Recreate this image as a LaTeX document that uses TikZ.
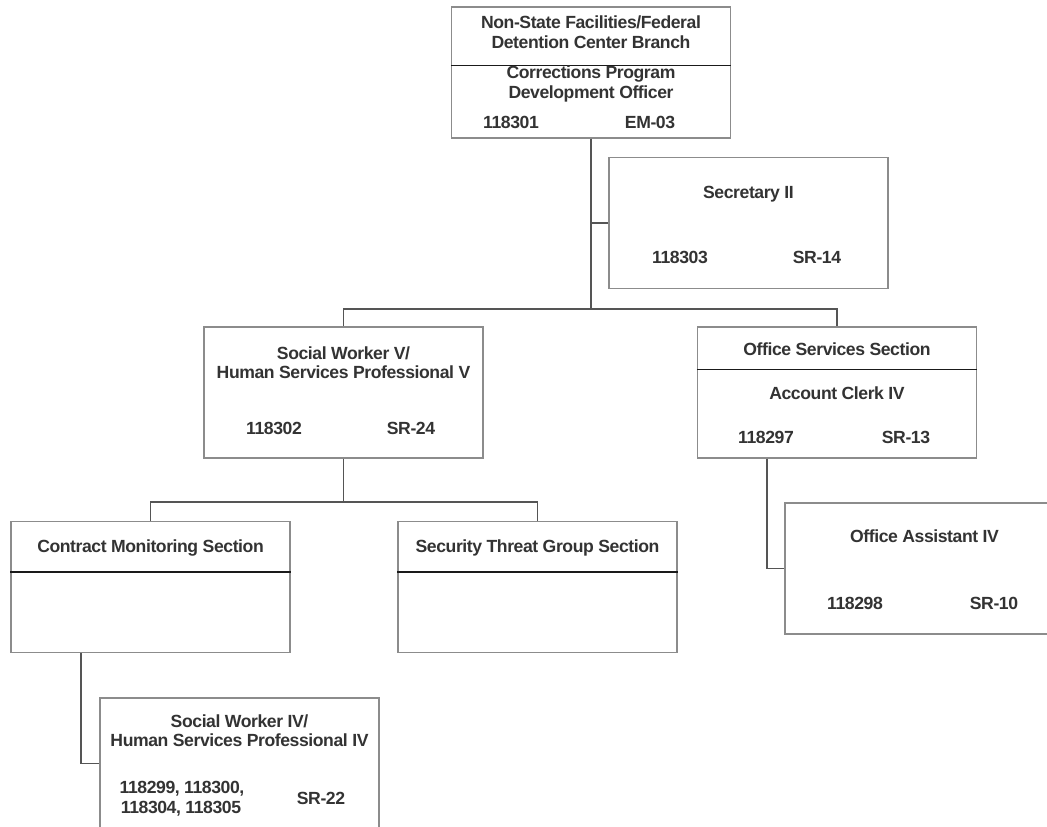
\documentclass[tikz,border=0pt]{standalone}
\usepackage{fontspec}
\setmainfont{Liberation Sans}[LetterSpace=-2.4]
\definecolor{boxgray}{HTML}{8C8C8C}
\definecolor{linegray}{HTML}{555555}
\definecolor{txtgray}{HTML}{333333}
\definecolor{divcol}{HTML}{1A1A1A}
\begin{document}
\begin{tikzpicture}[x=1pt,y=-1pt,
  box/.style={draw=boxgray, line width=1.2pt, fill=white, rectangle, inner sep=0pt,
              minimum width=279pt, minimum height=131pt},
  lbl/.style={anchor=base, inner sep=0pt, text=txtgray,
              font=\fontsize{17.6}{19}\selectfont\bfseries},
  conn/.style={draw=linegray, line width=1.4pt},
  divider/.style={draw=divcol, line width=1.3pt}]
\useasboundingbox (0,0) rectangle (1047,827);
\clip (0,0) rectangle (1047,827);
\fill[white] (0,0) rectangle (1047,827);

% boxes
\node[box] (top) at (591,72.5) {};
\node[box] (sec) at (748.5,223) {};
\node[box] (sw5) at (343.5,392.5) {};
\node[box] (os)  at (837,392.5) {};
\node[box] (cm)  at (150.5,587) {};
\node[box] (st)  at (537.5,587) {};
\node[box] (oa)  at (924.5,568.5) {};
\node[box] (sw4) at (239.5,763.5) {};

% dividers
\draw[divider] ([yshift=-59pt]top.north west) -- ([yshift=-59pt]top.north east);
\draw[divider] ([yshift=-43pt]os.north west) -- ([yshift=-43pt]os.north east);
\draw[divider] ([yshift=-51pt]cm.north west) -- ([yshift=-51pt]cm.north east);
\draw[divider] ([yshift=-51pt]st.north west) -- ([yshift=-51pt]st.north east);

% connectors
\coordinate (j1) at (591,309);
\coordinate (j2) at (343.5,502);
\draw[conn] (top.south) -- (j1);
\draw[conn] (top.south) |- (sec.west);
\draw[conn] (j1) -| (sw5.north);
\draw[conn] (j1) -| (os.north);
\draw[conn] (sw5.south) -- (j2);
\draw[conn] (j2) -| (cm.north);
\draw[conn] (j2) -| (st.north);
\draw[conn] ([xshift=-70pt]os.south) |- (oa.west);
\draw[conn] ([xshift=-69.5pt]cm.south) |- (sw4.west);

% texts: top box
\node[lbl] (t1) at (591,28) {Non-State Facilities/Federal};
\node[lbl] (t2) at (591,48) {Detention Center Branch};
\node[lbl] (t3) at (591,78) {Corrections Program};
\node[lbl] (t4) at (591,98) {Development Officer};
\node[lbl] (t5) at (511,128) {118301};
\node[lbl] (t6) at (650,128) {EM-03};

% secretary
\node[lbl] (s1) at (748.5,198) {Secretary II};
\node[lbl] (s2) at (680,263) {118303};
\node[lbl] (s3) at (817,263) {SR-14};

% social worker V
\node[lbl] (w1) at (343.5,359) {Social Worker V/};
\node[lbl] (w2) at (343.5,378) {Human Services Professional V};
\node[lbl] (w3) at (274,434) {118302};
\node[lbl] (w4) at (411,434) {SR-24};

% office services
\node[lbl] (o1) at (837,355) {Office Services Section};
\node[lbl] (o2) at (837,399) {Account Clerk IV};
\node[lbl] (o3) at (766,443) {118297};
\node[lbl] (o4) at (906,443) {SR-13};

% sections
\node[lbl] (c1) at (150.5,552) {Contract Monitoring Section};
\node[lbl] (g1) at (537.5,552) {Security Threat Group Section};

% office assistant
\node[lbl] (a1) at (924.5,542) {Office Assistant IV};
\node[lbl] (a2) at (855,609) {118298};
\node[lbl] (a3) at (994,609) {SR-10};

% social worker IV
\node[lbl] (v1) at (239.5,727) {Social Worker IV/};
\node[lbl] (v2) at (239.5,746) {Human Services Professional IV};
\node[lbl] (v3) at (182,793) {118299, 118300,};
\node[lbl] (v4) at (181,813) {118304, 118305};
\node[lbl] (v5) at (321,804) {SR-22};
\end{tikzpicture}
\end{document}
